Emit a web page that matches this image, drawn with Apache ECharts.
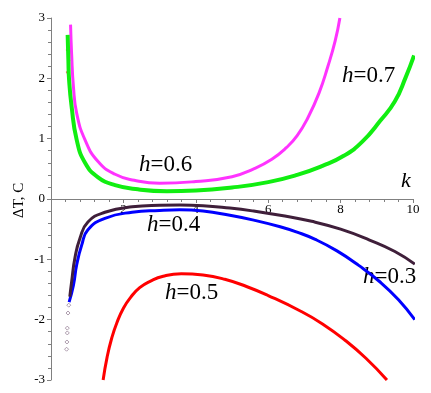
<!DOCTYPE html>
<html>
<head>
<meta charset="utf-8">
<script src="https://cdn.jsdelivr.net/npm/echarts@6/dist/echarts.min.js"></script>
<style>html,body{margin:0;padding:0;background:#fff}#c{width:431px;height:393px}</style>
</head>
<body>
<div id="c"></div>
<script>
// x tick labels and y tick labels
var xTicks = [0, 2, 4, 6, 8, 10];
var yTicks = [-3, -2, -1, 0, 1, 2, 3];
// curve data [k, dT]
var h06 = [[0.54,2.89],[0.57,2.4],[0.62,1.86],[0.71,1.42],[0.94,0.98],[1.3,0.62],[1.77,0.41],[2.3,0.31],[3.0,0.26],[4.0,0.29],[5.0,0.37],[5.6,0.5],[6.1,0.66],[6.5,0.85],[6.8,1.05],[7.1,1.35],[7.4,1.75],[7.65,2.2],[7.85,2.62],[7.98,3.0]];
var h07 = [[0.46,2.72],[0.48,2.3],[0.5,1.97],[0.57,1.53],[0.71,0.98],[0.94,0.6],[1.3,0.36],[1.77,0.23],[2.4,0.16],[3.2,0.13],[4.0,0.14],[5.0,0.19],[6.0,0.28],[6.8,0.40],[7.5,0.55],[8.1,0.72],[8.6,0.95],[9.1,1.3],[9.5,1.62],[9.8,2.02],[10.03,2.38]];
var h03 = [[0.52,-1.62],[0.57,-1.37],[0.66,-0.98],[0.80,-0.65],[1.02,-0.38],[1.49,-0.22],[2.24,-0.13],[3.0,-0.105],[3.56,-0.10],[4.2,-0.11],[4.94,-0.15],[5.6,-0.2],[6.33,-0.27],[7.2,-0.37],[8.0,-0.5],[8.8,-0.68],[9.5,-0.87],[10.05,-1.08]];
var h03sparse = [[0.43,-2.49],[0.44,-2.37],[0.45,-2.22],[0.45,-2.14],[0.47,-1.89],[0.49,-1.76]];
var h04 = [[0.50,-1.71],[0.62,-1.43],[0.71,-1.09],[0.85,-0.76],[1.02,-0.51],[1.49,-0.32],[2.24,-0.22],[3.0,-0.19],[3.56,-0.18],[4.2,-0.2],[4.94,-0.27],[5.6,-0.35],[6.33,-0.46],[6.8,-0.55],[7.3,-0.67],[7.9,-0.86],[8.5,-1.1],[9.1,-1.38],[9.6,-1.67],[10.05,-2.0]];
var h05 = [[1.44,-3.0],[1.55,-2.62],[1.68,-2.30],[1.82,-2.05],[2.0,-1.81],[2.2,-1.63],[2.45,-1.47],[2.75,-1.36],[3.1,-1.28],[3.6,-1.24],[4.2,-1.26],[4.8,-1.33],[5.4,-1.45],[6.0,-1.6],[6.9,-1.86],[7.5,-2.07],[8.1,-2.33],[8.7,-2.64],[9.28,-3.0]];
var h05stray = [[0.44,2.47],[0.44,2.1]];

var chart = echarts.init(document.getElementById('c'));
var serif = 'Liberation Serif';
function lineSeries(data, color, w) {
  return {type: 'line', data: data, smooth: 0.5, showSymbol: false, clip: false,
          lineStyle: {color: color, width: w}, animation: false};
}
var lbl = function (txt, x, y) {
  return {type: 'text', left: x, top: y,
    style: {text: '{i|h}=' + txt, rich: {i: {fontStyle: 'italic', fontFamily: serif, fontSize: 23, fill: '#000'}},
            fontFamily: serif, fontSize: 23, fill: '#000'}};
};
chart.setOption({
  animation: false,
  backgroundColor: '#fff',
  grid: {left: 51, right: 18, top: 18, bottom: 13},
  xAxis: {type: 'value', min: 0, max: 10, interval: 2, offset: -181,
    axisLine: {onZero: false, lineStyle: {color: '#808080'}},
    axisTick: {length: 4, lineStyle: {color: '#808080'}},
    minorTick: {show: true, splitNumber: 5, length: 3, lineStyle: {color: '#808080'}},
    splitLine: {show: false},
    axisLabel: {fontFamily: serif, fontSize: 13, color: '#000', margin: 4,
      formatter: function (v) { return v === 0 ? '' : String(v); }}
  },
  yAxis: {type: 'value', min: -3, max: 3, interval: 1,
    axisLine: {onZero: false, lineStyle: {color: '#808080'}},
    axisTick: {length: 4, lineStyle: {color: '#808080'}},
    minorTick: {show: true, splitNumber: 5, length: 3, lineStyle: {color: '#808080'}},
    splitLine: {show: false},
    axisLabel: {fontFamily: serif, fontSize: 13, color: '#000', margin: 6}
  },
  graphic: [
    {type: 'text', x: 12, y: 218, rotation: Math.PI / 2,
     style: {text: 'ΔT, C', fontFamily: serif, fontSize: 15, fill: '#000'}},
    {type: 'text', left: 401, top: 170,
     style: {text: 'k', fontFamily: serif, fontStyle: 'italic', fontSize: 22, fill: '#000'}},
    lbl('0.6', 139, 153),
    lbl('0.7', 342, 64),
    lbl('0.4', 147, 213),
    lbl('0.5', 165, 281),
    lbl('0.3', 363, 265)
  ],
  series: [
    lineSeries(h06, '#ff33ff', 3),
    lineSeries(h07, '#11ee11', 4),
    lineSeries(h05, '#ff0000', 3),
    lineSeries(h04, '#0000ff', 3),
    lineSeries(h03, '#3f1f3a', 3),
    {type: 'scatter', data: h03sparse, symbol: 'diamond', symbolSize: 4,
     itemStyle: {color: '#fff', borderColor: '#9a849a', borderWidth: 1}, animation: false},
    {type: 'scatter', data: h05stray, symbol: 'rect', symbolSize: 2,
     itemStyle: {color: '#ff4444'}, animation: false}
  ]
});
</script>
</body>
</html>
